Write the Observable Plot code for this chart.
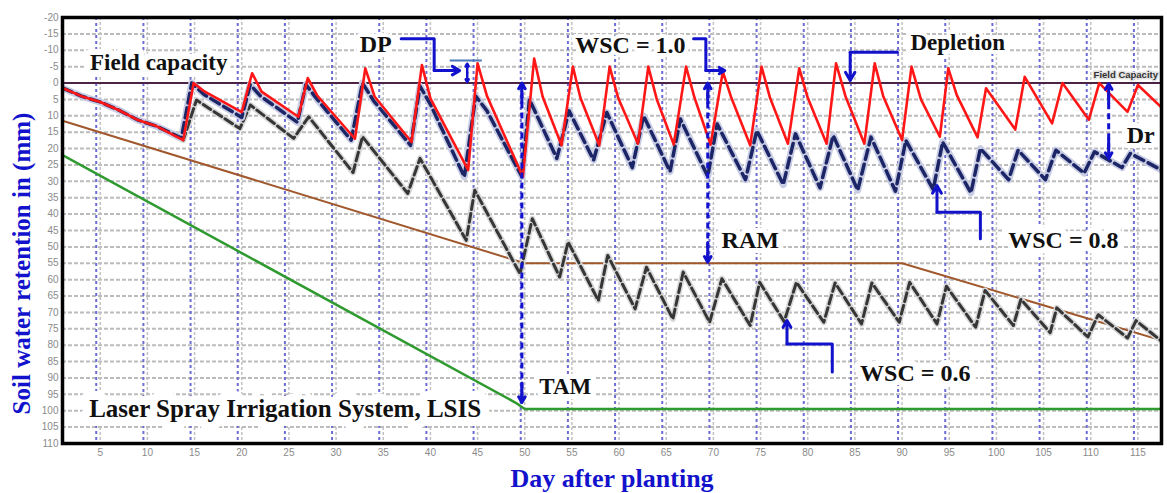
<!DOCTYPE html>
<html><head><meta charset="utf-8">
<script src="https://cdn.jsdelivr.net/npm/d3@7"></script>
<script src="https://cdn.jsdelivr.net/npm/@observablehq/plot@0.6"></script>
<style>html,body{margin:0;padding:0;background:#fff;} svg{display:block}</style>
</head><body><div id="chart"></div>
<script>
// ---- data: [day after planting, soil water depletion (mm)] ----
const wsc10 = [[1,1.5],[3,4],[5,5.8],[7,8.3],[9,11.3],[11,13.2],[13.8,17.4],[14.9,0],[16,2.5],[20,8.9],[21.1,-3],[22.1,2.6],[26,10.3],[27,-1.5],[28,3.8],[32,17],[33.1,-4.5],[34.1,4.2],[38,18],[39.1,-5.5],[40,4.7],[44,26.6],[45,-6],[46,4],[49.8,28.6],[51,-7.5],[51.9,4.2],[53.9,19],[55.1,-5],[55.9,4.5],[57.9,19],[59,-5],[59.9,4.5],[62,18.5],[63.1,-5],[64,5],[65.8,18.8],[67.1,-5],[68,4.5],[69.7,18.8],[71,-3.5],[71.9,4.5],[73.9,19],[75.1,-5],[76,4.5],[77.9,18.5],[79.1,-4.5],[80,4.5],[82,18.5],[83,-6],[84,4],[86,18.5],[87.1,-6],[88,4],[90,17.4],[91,-5],[92,5],[94,16.4],[94.9,-4.5],[95.8,3.7],[98,16.6],[98.9,1.6],[102,14.2],[103,-1.9],[105.9,12.3],[107,0],[109.8,11.2],[110.9,0],[113.9,8.8],[115,0.6],[117.8,8.3]];
const wsc08 = [[1,1.5],[3,4],[5,5.8],[7,8.3],[9,11.3],[11,13.2],[13.6,16.8],[14.7,0],[16,3.5],[20,10.5],[20.9,0.5],[22,4],[25.9,12],[26.8,0.5],[28,5],[31.6,17.4],[32.8,0],[34,5.5],[37.9,19],[38.9,1],[40,6.5],[43.6,28.6],[44.8,4],[46,8.5],[49.7,28.6],[50.5,5],[53.4,23],[54.7,8.5],[57.3,23.5],[58.7,9],[61.4,25.8],[62.6,10],[65.4,27],[66.5,11],[69.4,28.5],[70.4,12.5],[73.4,29.5],[74.6,14.5],[77.4,31],[78.7,15.5],[81.3,32],[82.7,16],[85.3,32.7],[86.7,16.5],[89.3,33],[90.4,17.5],[93.3,32.5],[94.3,18],[97.3,33.5],[98.3,20],[101.3,29.5],[102.3,20.5],[105.2,29.5],[106.3,20.5],[109.3,27.5],[110.4,21],[113.3,25.8],[114.2,21.5],[117.8,27]];
const wsc06 = [[1,1.5],[3,4],[5,5.8],[7,8.3],[9,11.3],[11,13.2],[13.8,17.4],[15.2,5.2],[19.8,13.9],[20.9,6.7],[25.5,16.9],[27.1,10.3],[31.8,27.3],[32.8,16.4],[37.6,33.7],[38.9,23],[43.8,48],[44.7,32.7],[49.5,58.2],[50.8,41.4],[53.7,59.2],[54.6,48.5],[57.8,66.4],[58.8,52.6],[61.7,68.9],[62.9,56.2],[65.7,72],[66.8,57.7],[69.6,73],[70.9,59.7],[73.9,74],[74.9,60.8],[77.5,72.8],[78.8,60.8],[81.7,73],[82.9,61],[85.7,73.5],[86.8,61],[89.7,73],[90.8,60.8],[93.7,73.5],[94.7,62],[97.8,74.5],[98.8,63.3],[101.8,74],[102.6,66],[105.7,76.2],[106.4,68.6],[109.7,77.5],[110.8,70.7],[113.9,77.8],[114.8,72.5],[117.6,79]];
const ramLine = [[1,11.5],[50,55],[90,55],[117.8,78.8]];
const tamLine = [[1,22],[49,97.5],[50,99.5],[117.8,99.5]];
const fieldCapacity = [0];
const yTicks = d3.range(-20, 111, 5);
const xTicks = d3.range(5, 116, 5);

// ---- annotations (data units) ----
const labels = [
  {text: "Field capacity", day: 11.2, mm: -6.3, size: 23, halo: 12},
  {text: "DP", day: 34.2, mm: -11.8, size: 24, halo: 8},
  {text: "WSC = 1.0", day: 61.2, mm: -11.5, size: 24, halo: 8},
  {text: "Depletion", day: 95.9, mm: -12.4, size: 23, halo: 8},
  {text: "Dr", day: 115.3, mm: 16, size: 24, halo: 10},
  {text: "WSC = 0.8", day: 107.1, mm: 48, size: 24, halo: 12},
  {text: "RAM", day: 73.9, mm: 48, size: 24, halo: 10},
  {text: "TAM", day: 54.3, mm: 92.6, size: 23, halo: 10},
  {text: "WSC = 0.6", day: 91.4, mm: 88.6, size: 24, halo: 12},
  {text: "Laser Spray Irrigation System, LSIS", day: 24.6, mm: 99.6, size: 25, halo: 18}
];
const elbows = [
  {id: "dp",  pts: [[36.9,-13.5],[40.4,-13.5],[40.4,-3.8],[43.1,-3.8]]},
  {id: "w10", pts: [[67.9,-13.5],[69.2,-13.5],[69.2,-3.8],[71.2,-3.8]]},
  {id: "dep", pts: [[89.5,-9.4],[84.5,-9.4],[84.5,-0.8]]},
  {id: "w08", pts: [[98.3,47.5],[98.3,39.4],[93.7,39.4],[93.7,31.3]]},
  {id: "w06", pts: [[82.6,88.2],[82.6,79.6],[77.8,79.6],[77.8,72.5]]}
];
const spans = [
  {id: "TAM", day: 49.7, top: 0, bottom: 97.5},
  {id: "RAM", day: 69.4, top: 0, bottom: 54.7},
  {id: "Dr", day: 111.9, top: 0.2, bottom: 23}
];
const dpMark = {day: 43.9, top: -5.9, bottom: -0.3, barFrom: 42.1, barTo: 45.5, barAt: -6.9};

const rows = a => a.map(([day, mm]) => ({day, mm}));
const elbowLines = elbows.flatMap(e => e.pts.slice(0, -1).map(([day, mm]) => ({id: e.id, day, mm})));
const elbowHeads = elbows.map(e => {
  const p = e.pts[e.pts.length - 2], q = e.pts[e.pts.length - 1];
  return {x1: p[0], y1: p[1], x2: q[0], y2: q[1]};
});
const spanHeads = spans.flatMap(s => [
  {x1: s.day, y1: s.top + 6, x2: s.day, y2: s.top},
  {x1: s.day, y1: s.bottom - 6, x2: s.day, y2: s.bottom}
]);
const dpHeads = [
  {x1: dpMark.day, y1: (dpMark.top + dpMark.bottom) / 2, x2: dpMark.day, y2: dpMark.top},
  {x1: dpMark.day, y1: (dpMark.top + dpMark.bottom) / 2, x2: dpMark.day, y2: dpMark.bottom}
];

const BLUE = "#1212cc";
const serif = "Liberation Serif, Times New Roman, serif";

const chart = Plot.plot({
  width: 1167, height: 493,
  marginLeft: 62, marginRight: 6, marginTop: 17, marginBottom: 50,
  style: {background: "#fff", fontFamily: "Liberation Sans, Arial, sans-serif", overflow: "visible"},
  x: {domain: [1, 117.5], axis: null},
  y: {domain: [-20, 110], reverse: true, axis: null},
  marks: [
    // grid
    Plot.ruleY(yTicks.filter(v => v > -20 && v < 110 && v !== 0), {y: d => d, stroke: "#bcbcbc", strokeWidth: 2, strokeDasharray: "4,2"}),
    Plot.ruleX(xTicks, {x: d => d, dx: -4, stroke: "#6c6cd4", strokeWidth: 2, strokeDasharray: "3,3"}),
    Plot.ruleX(xTicks, {x: d => d, stroke: "#c2c2c2", strokeWidth: 1.5, strokeDasharray: "3,2"}),
    // field capacity
    Plot.ruleY(fieldCapacity, {y: d => d, stroke: "#4a2346", strokeWidth: 2}),
    // TAM, RAM
    Plot.line(rows(tamLine), {x: "day", y: "mm", stroke: "#2f9a2f", strokeWidth: 2.5, clip: true}),
    Plot.line(rows(ramLine), {x: "day", y: "mm", stroke: "#a0582c", strokeWidth: 2, clip: true}),
    // WSC 0.6
    Plot.line(rows(wsc06), {x: "day", y: "mm", stroke: "#d8d8d8", strokeWidth: 6, clip: true}),
    Plot.line(rows(wsc06), {x: "day", y: "mm", stroke: "#363636", strokeWidth: 3, strokeDasharray: "9,4", clip: true}),
    // WSC 0.8
    Plot.line(rows(wsc08), {x: "day", y: "mm", stroke: "#c9cde4", strokeWidth: 7, clip: true}),
    Plot.line(rows(wsc08), {x: "day", y: "mm", stroke: "#1c2566", strokeWidth: 3.5, strokeDasharray: "10,5", clip: true}),
    // WSC 1.0
    Plot.line(rows(wsc10), {x: "day", y: "mm", stroke: "#ff1717", strokeWidth: 2.6, clip: true}),
    // dashed span arrows
    Plot.ruleX(spans, {x: "day", y1: "top", y2: "bottom", stroke: BLUE, strokeWidth: 3, strokeDasharray: "6,4"}),
    Plot.arrow(spanHeads, {x1: "x1", y1: "y1", x2: "x2", y2: "y2", stroke: BLUE, strokeWidth: 3, headLength: 6}),
    // labels
    Plot.text(labels, {x: "day", y: "mm", text: "text", fontSize: d => d.size, fontFamily: serif, fontWeight: "bold", fill: "#111", stroke: "white", strokeWidth: d => d.halo, strokeLinejoin: "round"}),
    Plot.text(["Field Capacity"], {x: 110.3, y: -2.4, textAnchor: "start", fontSize: 9.5, fontWeight: "bold", fill: "#333", stroke: "#e2e2e2", strokeWidth: 3}),
    // DP marker
    Plot.ruleY([dpMark], {y: "barAt", x1: "barFrom", x2: "barTo", stroke: "#4a78b8", strokeWidth: 2}),
    Plot.arrow(dpHeads, {x1: "x1", y1: "y1", x2: "x2", y2: "y2", stroke: BLUE, strokeWidth: 2.5, headLength: 5}),
    // elbow connectors
    Plot.line(elbowLines, {x: "day", y: "mm", z: "id", stroke: BLUE, strokeWidth: 3}),
    Plot.arrow(elbowHeads, {x1: "x1", y1: "y1", x2: "x2", y2: "y2", stroke: BLUE, strokeWidth: 3, headLength: 6}),
    // frame & axes
    Plot.frame({stroke: "#000", strokeWidth: 3.5}),
    Plot.axisY(yTicks, {tickSize: 0, tickPadding: 4, fontSize: 10, fill: "#8a8a8a", tickFormat: d => String(d), label: null}),
    Plot.axisX(xTicks, {tickSize: 0, tickPadding: 5, fontSize: 10, fill: "#8a8a8a", tickFormat: d => String(d), label: null}),
    Plot.text(["Day after planting"], {frameAnchor: "bottom", textAnchor: "middle", lineAnchor: "middle", dy: 35, fontSize: 26, fontFamily: serif, fontWeight: "bold", fill: BLUE}),
    Plot.text(["Soil water retention in (mm)"], {frameAnchor: "left", textAnchor: "middle", lineAnchor: "middle", rotate: -90, dx: -41, dy: 33, fontSize: 25, fontFamily: serif, fontWeight: "bold", fill: BLUE})
  ]
});
document.getElementById("chart").appendChild(chart);
</script>
</body></html>
